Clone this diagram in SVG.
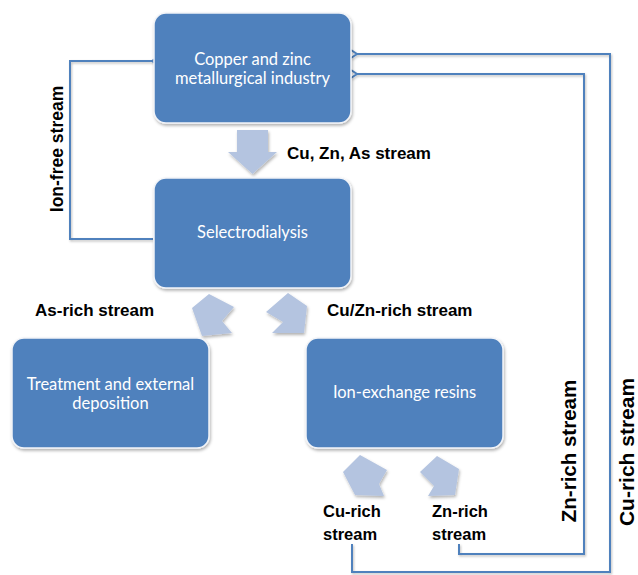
<svg xmlns="http://www.w3.org/2000/svg" width="638" height="575" viewBox="0 0 638 575">
  <style>
    .box { fill: #4F81BD; stroke: #F2F4F8; stroke-width: 1.5; filter: url(#shadow); }
    .boxtext { font-family: Lato, "Liberation Sans", sans-serif; font-size: 16.5px; fill: #FFFFFF; text-anchor: middle; }
    .label { font-family: "Liberation Sans", Arial, sans-serif; font-weight: bold; font-size: 17px; fill: #000000; }
    .small { font-size: 16.5px; }
    .flow { fill: none; stroke: #4F81BD; stroke-width: 2; filter: url(#lineshadow); }
    .block { fill: #B4C4E0; filter: url(#shadow); }
  </style>
  <defs>
    <filter id="shadow" x="-20%" y="-20%" width="140%" height="140%">
      <feDropShadow dx="1" dy="2" stdDeviation="1.5" flood-color="#000000" flood-opacity="0.3"/>
    </filter>
    <filter id="lineshadow" x="-5%" y="-5%" width="110%" height="110%">
      <feDropShadow dx="1" dy="1.5" stdDeviation="1" flood-color="#000000" flood-opacity="0.25"/>
    </filter>
    <marker id="open" markerUnits="userSpaceOnUse" markerWidth="12" markerHeight="12" refX="1" refY="6" orient="auto">
      <path d="M7,2 L1,6 L7,10" fill="none" stroke="#4F81BD" stroke-width="2"/>
    </marker>
  </defs>
  <rect width="638" height="575" fill="#FFFFFF"/>

  <!-- connectors: block arrows and return lines -->
  <g id="connectors">
    <polygon class="block" points="237,130 268,130 268,152 277,152 252.5,174 228,152 237,152"/>
    <polygon class="block" points="209,294 234,307 222,321 232,333 202,336 192,308"/>
    <polygon class="block" points="288,293 307,306 304,333 272,333 283,322 266,312"/>
    <polygon class="block" points="360,455 387,470 379,484 384,496 355,495 343,472"/>
    <polygon class="block" points="437,456 459,469 455,495 428,496 434,486 420,472"/>

    <polyline class="flow" points="153,239 70,239 70,61 152,61" marker-end="url(#open)"/>
    <polyline class="flow" points="352,544 352,572 610,572 610,54 357,54" marker-end="url(#open)"/>
    <polyline class="flow" points="459,544 459,554 584,554 584,74 357,74" marker-end="url(#open)"/>
  </g>

  <g id="industry">
    <rect class="box" x="154" y="13" width="197" height="110" rx="12"/>
    <text class="boxtext" x="252.5" y="65">Copper and zinc</text>
    <text class="boxtext" x="252.5" y="84">metallurgical industry</text>
  </g>

  <g id="selectrodialysis">
    <rect class="box" x="154" y="178" width="197" height="110" rx="12"/>
    <text class="boxtext" x="252.5" y="238">Selectrodialysis</text>
  </g>

  <g id="treatment">
    <rect class="box" x="12" y="338" width="197" height="110" rx="12"/>
    <text class="boxtext" x="110.5" y="390">Treatment and external</text>
    <text class="boxtext" x="110.5" y="409">deposition</text>
  </g>

  <g id="resins">
    <rect class="box" x="306" y="338" width="197" height="110" rx="12"/>
    <text class="boxtext" x="404.5" y="398">Ion-exchange resins</text>
  </g>

  <!-- stream labels -->
  <g id="labels">
    <text class="label" x="287" y="159">Cu, Zn, As stream</text>
    <text class="label" x="35" y="316">As-rich stream</text>
    <text class="label" x="327" y="316">Cu/Zn-rich stream</text>
    <text class="label small" x="323" y="517">Cu-rich</text>
    <text class="label small" x="323" y="540">stream</text>
    <text class="label small" x="432" y="517">Zn-rich</text>
    <text class="label small" x="432" y="540">stream</text>
    <text class="label" text-anchor="middle" style="font-size:17.5px" transform="translate(63,149) rotate(-90)">Ion-free stream</text>
    <text class="label" text-anchor="middle" style="font-size:20.5px" transform="translate(576,451) rotate(-90)">Zn-rich stream</text>
    <text class="label" text-anchor="middle" style="font-size:21px" transform="translate(634,452) rotate(-90)">Cu-rich stream</text>
  </g>
</svg>
